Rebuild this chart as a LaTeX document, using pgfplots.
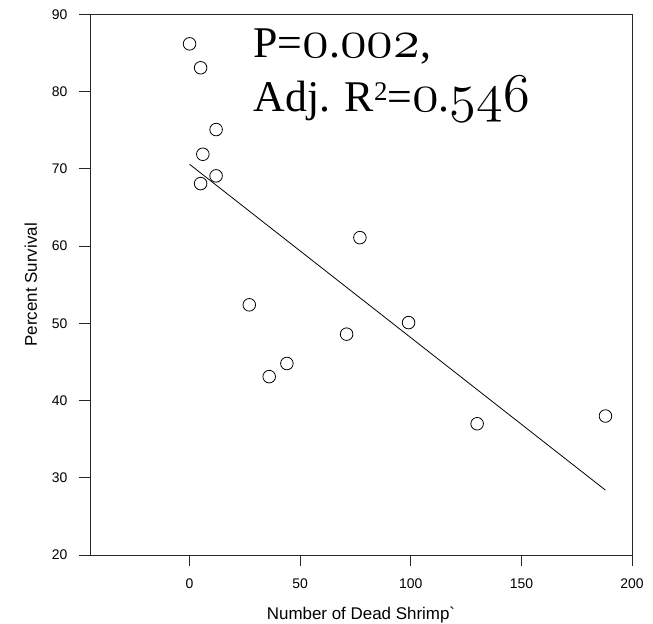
\documentclass[border=0pt]{standalone}
\usepackage{pgfplots}
\pgfplotsset{compat=1.18}
\usepackage{graphicx}
\usepackage{fontspec}
\setmainfont{Liberation Serif}
\newfontfamily\arial{Liberation Sans}
\newcommand\osn[1]{\scalebox{2.2}{\fontsize{24.88}{24.88}\usefont{OML}{cmm}{m}{it}#1}}
\newcommand\sqr{\raisebox{11bp}{\fontsize{27}{27}\selectfont 2}}
\begin{document}
\begin{tikzpicture}
\useasboundingbox (0,0) rectangle (653bp,624bp);
\begin{axis}[
  at={(90bp,69bp)}, anchor=south west,
  scale only axis, width=542bp, height=540.5bp,
  xmin=-45, xmax=200, ymin=20, ymax=90,
  xtick={0,50,100,150,200}, ytick={20,30,...,90},
  tick align=outside, xtick pos=bottom, ytick pos=left,
  major tick length=11bp,
  axis line style={black!85, line width=0.9pt},
  tick style={black!85, line width=0.9pt},
  /pgf/number format/assume math mode=true,
  tick label style={font=\arial\fontsize{14}{14}\selectfont},
  xticklabel style={yshift=-9bp},
  yticklabel style={xshift=-8bp},
  xlabel={Number of Dead Shrimp`},
  ylabel={Percent Survival},
  label style={font=\arial\fontsize{17}{17}\selectfont},
  xlabel style={yshift=-12bp},
  ylabel style={yshift=8bp},
  clip=false,
]
\addplot[only marks, mark=o, mark size=6.3bp, mark options={black, fill=white, line width=0.8pt}] coordinates {
(0,86.2) (5,83.1) (12,75.1) (6,71.9) (12,69.1) (5,68.1)
(77,61.1) (27,52.4) (71,48.6) (99,50.1) (44,44.8) (36,43.1)
(130,37.0) (188,38.0)
};
\addplot[black, line width=0.8pt] coordinates {(0,70.6) (188,28.4)};
\node[anchor=base west, inner sep=0pt, font=\fontsize{44}{54}\selectfont] at (axis cs:28.8,84.4)
  {P=\osn{0}.\osn{002},};
\node[anchor=base west, inner sep=0pt, font=\fontsize{44}{54}\selectfont] at (axis cs:28.8,77.4)
  {Adj. R\sqr=\osn{0}.\osn{546}};
\end{axis}
\end{tikzpicture}
\end{document}
